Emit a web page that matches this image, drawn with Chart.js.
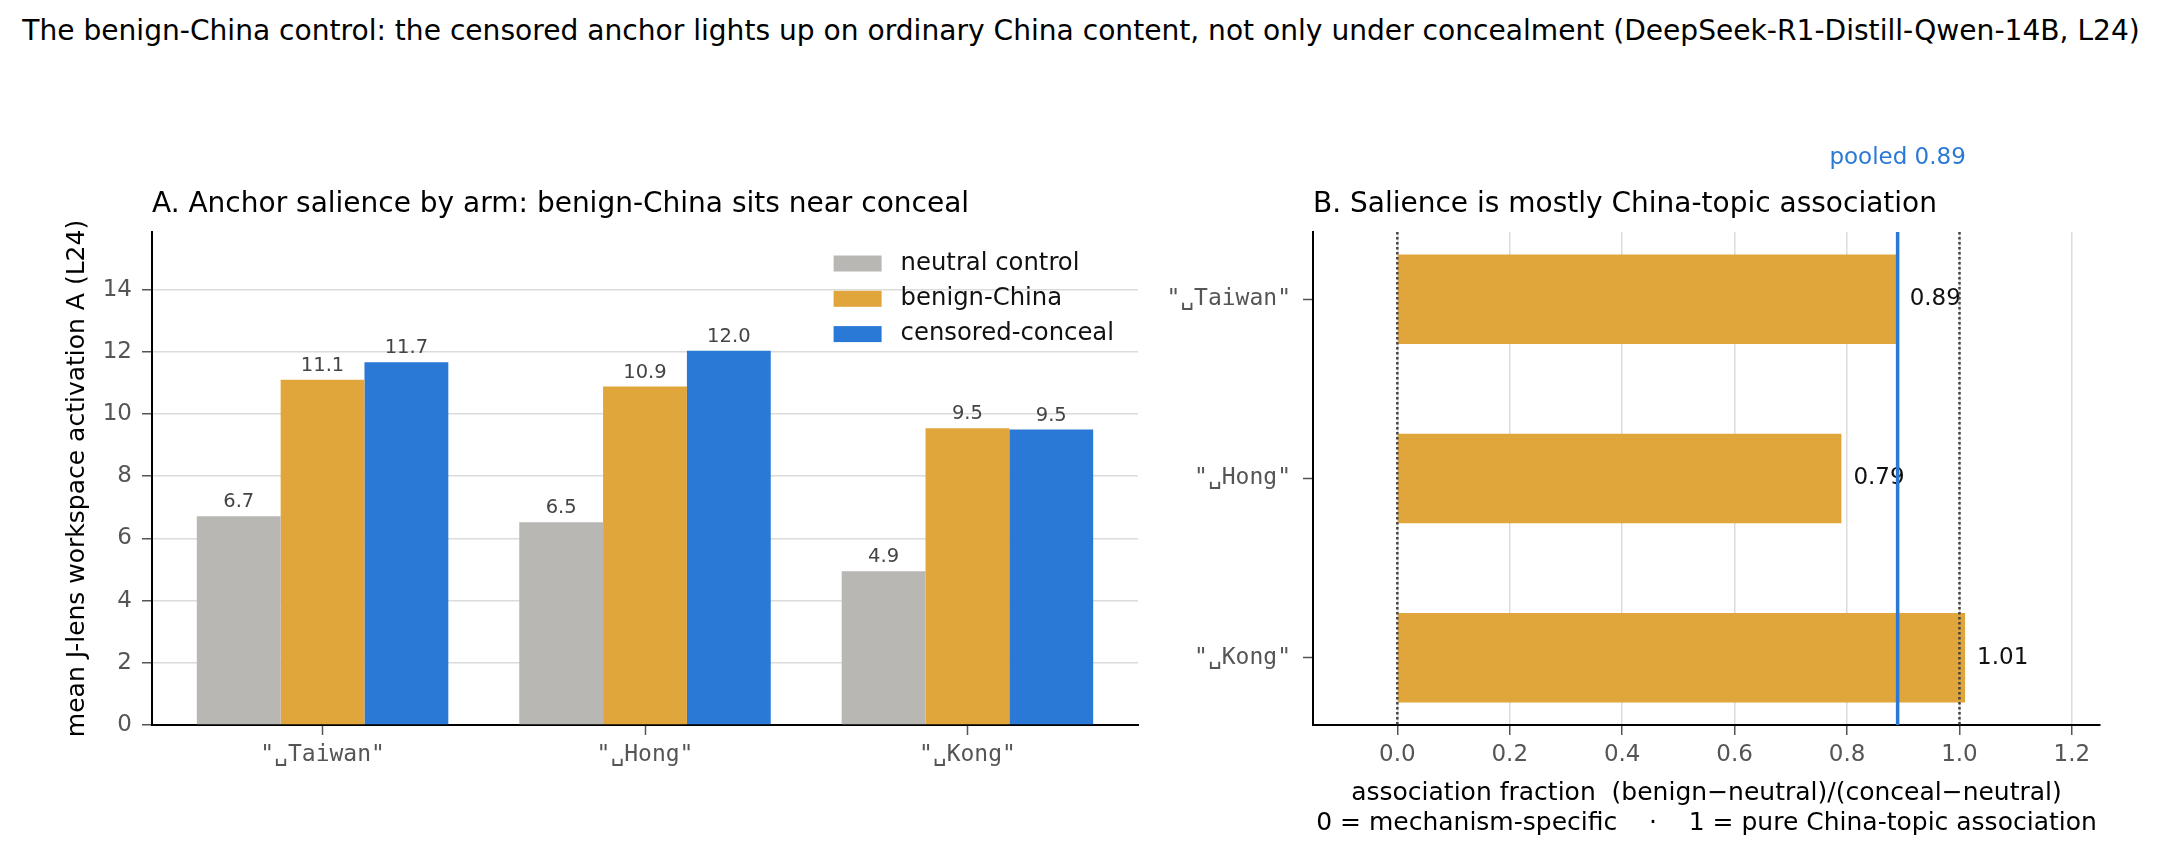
<!DOCTYPE html>
<html>
<head>
<meta charset="utf-8">
<title>benign-China control</title>
<script src="https://cdn.jsdelivr.net/npm/chart.js@4.4.1/dist/chart.umd.min.js"></script>
<style>
  html, body { margin: 0; padding: 0; background: #fff; }
  body { width: 2162px; height: 860px; position: relative; overflow: hidden; font-family: "DejaVu Sans", sans-serif; }
  #suptitle { position: absolute; left: 0; top: 16px; width: 2162px; line-height: 30px; text-align: center; font-size: 28.1px; color: #000; white-space: pre; }
  .panel { position: absolute; top: 0; height: 860px; }
  #panelA { left: 0; width: 1160px; }
  #panelB { left: 1160px; width: 1002px; }
</style>
</head>
<body>
<div id="suptitle">The benign-China control: the censored anchor lights up on ordinary China content, not only under concealment (DeepSeek-R1-Distill-Qwen-14B, L24)</div>
<div class="panel" id="panelA"><canvas id="armChart"></canvas></div>
<div class="panel" id="panelB"><canvas id="fracChart"></canvas></div>
<script>
// DATA
const anchors = ['"\u2423Taiwan"', '"\u2423Hong"', '"\u2423Kong"'];
const neutralControl = [6.71, 6.52, 4.94];
const benignChina = [11.10, 10.88, 9.54];
const censoredConceal = [11.66, 12.03, 9.50];
const assocFraction = [0.89, 0.79, 1.01];
const pooledFraction = 0.89;
const salienceTicks = [0, 2, 4, 6, 8, 10, 12, 14];
const fractionTicks = [0.0, 0.2, 0.4, 0.6, 0.8, 1.0, 1.2];
const guideLines = [0, 1];

// COLOURS
const GREY = "#b8b7b3";
const ORANGE = "#e0a53b";
const BLUE = "#2a79d6";
const GRID = "#dcdcd8";
const TICK = "#555555";

Chart.defaults.font.family = "'DejaVu Sans', sans-serif";
Chart.defaults.color = TICK;

const monoFont = { family: "'DejaVu Sans Mono', monospace", size: 23 };

// bar index -> point on a linear index axis
const toPoints = (vals, horizontal) =>
    vals.map((v, i) => horizontal ? { x: v, y: i } : { x: i, y: v });

// VALUE LABELS
const barValueLabels = {
    id: "barValueLabels",
    afterDatasetsDraw(chart, args, opts) {
        const ctx = chart.ctx;
        ctx.save();
        ctx.font = opts.font;
        ctx.fillStyle = opts.color;
        chart.data.datasets.forEach((ds, di) => {
            chart.getDatasetMeta(di).data.forEach((bar, i) => {
                const p = ds.data[i];
                if (opts.horizontal) {
                    ctx.textAlign = "left";
                    ctx.textBaseline = "middle";
                    ctx.fillText(p.x.toFixed(opts.digits), bar.x + opts.gap, bar.y);
                } else {
                    ctx.textAlign = "center";
                    ctx.textBaseline = "alphabetic";
                    ctx.fillText(p.y.toFixed(opts.digits), bar.x, bar.y - opts.gap);
                }
            });
        });
        ctx.restore();
    }
};

// LEGEND INSIDE THE AXES (upper right)
const cornerLegend = {
    id: "cornerLegend",
    afterDraw(chart, args, opts) {
        const { ctx, chartArea } = chart;
        ctx.save();
        ctx.font = opts.font;
        const widest = Math.max(...chart.data.datasets.map(d => ctx.measureText(d.label).width));
        const textX = chartArea.right - opts.inset - widest;
        const boxX = textX - opts.textGap - opts.boxWidth;
        ctx.textAlign = "left";
        ctx.textBaseline = "middle";
        chart.data.datasets.forEach((ds, i) => {
            const y = chartArea.top + opts.top + i * opts.rowHeight;
            ctx.fillStyle = ds.backgroundColor;
            ctx.fillRect(boxX, y - opts.boxHeight / 2, opts.boxWidth, opts.boxHeight);
            ctx.fillStyle = opts.color;
            ctx.fillText(ds.label, textX, y);
        });
        ctx.restore();
    }
};

// GUIDE LINES + POOLED LINE
const fractionGuides = {
    id: "fractionGuides",
    afterDatasetsDraw(chart) {
        const { ctx, chartArea, scales } = chart;
        const x = scales.x;
        ctx.save();
        ctx.strokeStyle = "#444";
        ctx.lineWidth = 2.5;
        ctx.setLineDash([2.5, 2.5]);
        guideLines.forEach(v => {
            const px = x.getPixelForValue(v);
            ctx.beginPath();
            ctx.moveTo(px, chartArea.top);
            ctx.lineTo(px, chartArea.bottom);
            ctx.stroke();
        });
        const pp = x.getPixelForValue(pooledFraction);
        ctx.setLineDash([]);
        ctx.strokeStyle = BLUE;
        ctx.lineWidth = 3.5;
        ctx.beginPath();
        ctx.moveTo(pp, chartArea.top);
        ctx.lineTo(pp, chartArea.bottom);
        ctx.stroke();
        ctx.font = "23px 'DejaVu Sans'";
        ctx.fillStyle = BLUE;
        ctx.textAlign = "center";
        ctx.textBaseline = "alphabetic";
        ctx.fillText("pooled " + pooledFraction.toFixed(2), pp, chartArea.top - 68);
        ctx.restore();
    }
};

const panelTitle = text => ({
    display: true,
    text: text,
    align: "start",
    fullSize: false,
    color: "#000",
    font: { size: 28, weight: "normal", lineHeight: 1.2 },
    padding: { top: 0, bottom: 10.4 }
});

// PANEL A
new Chart(document.getElementById("armChart"), {
    type: "bar",
    data: {
        datasets: [
            { label: "neutral control", data: toPoints(neutralControl), backgroundColor: GREY },
            { label: "benign-China", data: toPoints(benignChina), backgroundColor: ORANGE },
            { label: "censored-conceal", data: toPoints(censoredConceal), backgroundColor: BLUE }
        ]
    },
    options: {
        responsive: true,
        maintainAspectRatio: false,
        animation: false,
        layout: { padding: { top: 188, right: 22, bottom: 0, left: 0 } },
        datasets: { bar: { categoryPercentage: 0.78, barPercentage: 1.0 } },
        scales: {
            x: {
                type: "linear",
                min: -0.529,
                max: 2.529,
                bounds: "data",
                offset: false,
                afterBuildTicks: s => { s.ticks = anchors.map((_, i) => ({ value: i })); },
                afterFit: s => { s.height = 135; },
                ticks: { callback: v => anchors[v], font: monoFont, color: TICK, padding: 6, maxRotation: 0 },
                grid: { offset: false, drawOnChartArea: false, tickLength: 10, tickColor: TICK, tickWidth: 1.5 },
                border: { color: "#000", width: 2 }
            },
            y: {
                min: 0,
                max: 15.85,
                bounds: "data",
                afterBuildTicks: s => { s.ticks = salienceTicks.map(v => ({ value: v })); },
                afterFit: s => { s.width = 152; },
                ticks: { font: { size: 23 }, color: TICK, padding: 10 },
                grid: { color: GRID, lineWidth: 1.5, tickLength: 10, tickColor: TICK, tickWidth: 1.5 },
                border: { color: "#000", width: 2 },
                title: {
                    display: true,
                    text: "mean J-lens workspace activation A (L24)",
                    color: "#000",
                    font: { size: 25, lineHeight: 1.2 },
                    padding: { top: 62, bottom: 0 }
                }
            }
        },
        plugins: {
            legend: { display: false },
            tooltip: { enabled: false },
            title: panelTitle("A. Anchor salience by arm: benign-China sits near conceal"),
            barValueLabels: { font: "19.5px 'DejaVu Sans'", color: "#444", digits: 1, gap: 9, horizontal: false },
            cornerLegend: { font: "24.3px 'DejaVu Sans'", color: "#111", inset: 24, textGap: 19, boxWidth: 48, boxHeight: 16, top: 31.5, rowHeight: 35.3 }
        }
    },
    plugins: [barValueLabels, cornerLegend]
});

// PANEL B
new Chart(document.getElementById("fracChart"), {
    type: "bar",
    data: {
        datasets: [
            { label: "association fraction", data: toPoints(assocFraction, true), backgroundColor: ORANGE }
        ]
    },
    options: {
        indexAxis: "y",
        responsive: true,
        maintainAspectRatio: false,
        animation: false,
        layout: { padding: { top: 188, right: 62, bottom: 0, left: 0 } },
        datasets: { bar: { categoryPercentage: 1.0, barPercentage: 0.5 } },
        scales: {
            x: {
                type: "linear",
                min: -0.15,
                max: 1.25,
                bounds: "data",
                afterBuildTicks: s => { s.ticks = fractionTicks.map(v => ({ value: v })); },
                afterFit: s => { s.height = 135; },
                ticks: { callback: v => v.toFixed(1), font: { size: 23 }, color: TICK, padding: 6, maxRotation: 0 },
                grid: { color: GRID, lineWidth: 1.5, tickLength: 10, tickColor: TICK, tickWidth: 1.5 },
                border: { color: "#000", width: 2 },
                title: {
                    display: true,
                    text: [
                        "association fraction  (benign\u2212neutral)/(conceal\u2212neutral)",
                        "0 = mechanism-specific    \u00b7    1 = pure China-topic association"
                    ],
                    color: "#000",
                    font: { size: 25, lineHeight: 1.2 },
                    padding: { top: 0, bottom: 22 }
                }
            },
            y: {
                type: "linear",
                min: -0.375,
                max: 2.375,
                reverse: true,
                bounds: "data",
                offset: false,
                afterBuildTicks: s => { s.ticks = anchors.map((_, i) => ({ value: i })); },
                afterFit: s => { s.width = 153; },
                ticks: { callback: v => anchors[v], font: monoFont, color: TICK, padding: 12 },
                grid: { offset: false, drawOnChartArea: false, tickLength: 10, tickColor: TICK, tickWidth: 1.5 },
                border: { color: "#000", width: 2 }
            }
        },
        plugins: {
            legend: { display: false },
            tooltip: { enabled: false },
            title: panelTitle("B. Salience is mostly China-topic association"),
            barValueLabels: { font: "23px 'DejaVu Sans'", color: "#111", digits: 2, gap: 12, horizontal: true }
        }
    },
    plugins: [barValueLabels, fractionGuides]
});
</script>
</body>
</html>
